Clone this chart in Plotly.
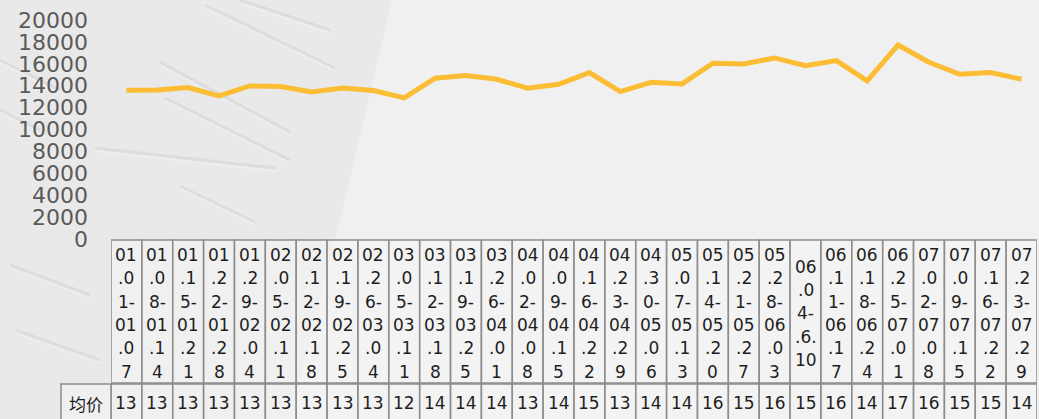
import plotly.graph_objects as go

# weekly ranges (x categories) and the average price series
weeks = ['01.01-01.07', '01.08-01.14', '01.15-01.21', '01.22-01.28', '01.29-02.04',
         '02.05-02.11', '02.12-02.18', '02.19-02.25', '02.26-03.04', '03.05-03.11',
         '03.12-03.18', '03.19-03.25', '03.26-04.01', '04.02-04.08', '04.09-04.15',
         '04.16-04.22', '04.23-04.29', '04.30-05.06', '05.07-05.13', '05.14-05.20',
         '05.21-05.27', '05.28-06.03', '06.04-.6.10', '06.11-06.17', '06.18-06.24',
         '06.25-07.01', '07.02-07.08', '07.09-07.15', '07.16-07.22', '07.23-07.29']
avg_price = [13585, 13616, 13829, 13069, 13981, 13920, 13433, 13799, 13555, 12886,
             14680, 14923, 14589, 13768, 14133, 15197, 13464, 14315, 14163, 16048,
             15987, 16535, 15835, 16291, 14437, 17720, 16139, 15044, 15197, 14589]
row_name = '均价'
y_ticks = [0, 2000, 4000, 6000, 8000, 10000, 12000, 14000, 16000, 18000, 20000]

W, H = 1039, 419
ML, MR, MT, MB = 111, 2, 20, 180
PW, PH = W - ML - MR, H - MT - MB
FONT = 'Verdana, DejaVu Sans, sans-serif'
LINE_C = '#fabd33'
GRID_C = '#8c8c8c'
TXT_C = '#1e1e1e'


def px_x(px):
  return (px - ML) / PW


def px_y(py):
  return (H - MB - py) / PH


def wrap(s, maxw=2.2):
  # narrow table cells wrap the label every ~2 characters
  widths = {'.': 0.57, '-': 0.68}
  lines, cur, w = [], '', 0
  for ch in s:
    cw = widths.get(ch, 1.0)
    if cur and w + cw > maxw:
      lines.append(cur)
      cur, w = ch, cw
    else:
      cur += ch
      w += cw
  lines.append(cur)
  return lines


fig = go.Figure()
fig.add_trace(go.Scatter(x=weeks, y=avg_price, mode='lines', name=row_name,
                         line=dict(color=LINE_C, width=5), showlegend=False,
                         hoverinfo='x+y'))

shapes, annotations = [], []

# faint building photo behind the chart (approximation)
shapes.append(dict(type='path', xref='paper', yref='paper', layer='below',
                   path=f'M {px_x(0)},{px_y(0)} L {px_x(392)},{px_y(0)} L {px_x(345)},{px_y(200)} '
                        f'L {px_x(320)},{px_y(300)} L {px_x(290)},{px_y(419)} L {px_x(0)},{px_y(419)} Z',
                   fillcolor='#e9e9e9', line=dict(width=0)))
diag = [(205, 5, 335, 68), (240, 0, 330, 30), (160, 62, 290, 132), (165, 98, 290, 160),
        (95, 148, 275, 168), (180, 186, 255, 222), (10, 265, 90, 295), (15, 330, 100, 360),
        (0, 60, 60, 90), (0, 110, 40, 130)]
for x0, y0, x1, y1 in diag:
  shapes.append(dict(type='line', xref='paper', yref='paper', layer='below',
                     x0=px_x(x0), y0=px_y(y0), x1=px_x(x1), y1=px_y(y1),
                     line=dict(color='rgba(0,0,0,0.05)', width=3)))
  shapes.append(dict(type='line', xref='paper', yref='paper', layer='below',
                     x0=px_x(x0), y0=px_y(y0 + 3), x1=px_x(x1), y1=px_y(y1 + 3),
                     line=dict(color='rgba(255,255,255,0.2)', width=2)))

# data table under the plot
r1_top, r1_bot, r2_top, r2_bot = 240, 383, 384, 440
cell_fill = 'rgba(246,246,246,0.55)'
for i, (wk, v) in enumerate(zip(weeks, avg_price)):
  for top, bot in ((r1_top, r1_bot), (r2_top, r2_bot)):
    shapes.append(dict(type='rect', xref='x', yref='paper', layer='above',
                       x0=i - 0.5, x1=i + 0.5, y0=px_y(bot), y1=px_y(top),
                       fillcolor=cell_fill, line=dict(color=GRID_C, width=1.5)))
  lines = wrap(wk)
  n = len(lines)
  for k, ln in enumerate(lines):
    yc = 313.3 + (k - (n - 1) / 2) * 23.3
    annotations.append(dict(x=i, xref='x', y=px_y(yc), yref='paper', text=ln,
                            showarrow=False, xanchor='center', yanchor='middle',
                            font=dict(family=FONT, size=17, color=TXT_C)))
  annotations.append(dict(x=i, xref='x', y=px_y(403), yref='paper', text=str(round(v))[:2],
                          showarrow=False, xanchor='center', yanchor='middle',
                          font=dict(family=FONT, size=17, color=TXT_C)))

shapes.append(dict(type='rect', xref='paper', yref='paper', layer='above',
                   x0=px_x(61), x1=px_x(111), y0=px_y(r2_bot), y1=px_y(r2_top),
                   fillcolor=cell_fill, line=dict(color=GRID_C, width=1.5)))
annotations.append(dict(x=px_x(86), xref='paper', y=px_y(403), yref='paper', text=row_name,
                        showarrow=False, xanchor='center', yanchor='middle',
                        font=dict(family='Noto Sans CJK SC, sans-serif', size=17, color=TXT_C)))

fig.update_layout(
  width=W, height=H,
  margin=dict(l=ML, r=MR, t=MT, b=MB, pad=0),
  paper_bgcolor='#f0f0f0', plot_bgcolor='rgba(0,0,0,0)',
  shapes=shapes, annotations=annotations,
  showlegend=False,
  xaxis=dict(type='category', range=[-0.5, len(weeks) - 0.5], showticklabels=False,
             showgrid=False, zeroline=False, showline=False, ticks=''),
  yaxis=dict(range=[0, 20000], tickvals=y_ticks, ticktext=[str(t) for t in y_ticks],
             showgrid=False, zeroline=False, showline=False, ticks='',
             ticklabelstandoff=22,
             tickfont=dict(family=FONT, size=22, color='#5a5a5a')),
)

# page has the default 8px body margin; drop it so the figure fills the window
fig.write_html('out.html', config={'displayModeBar': False},
               post_script="document.body.style.margin='0';document.body.style.overflow='hidden';")
